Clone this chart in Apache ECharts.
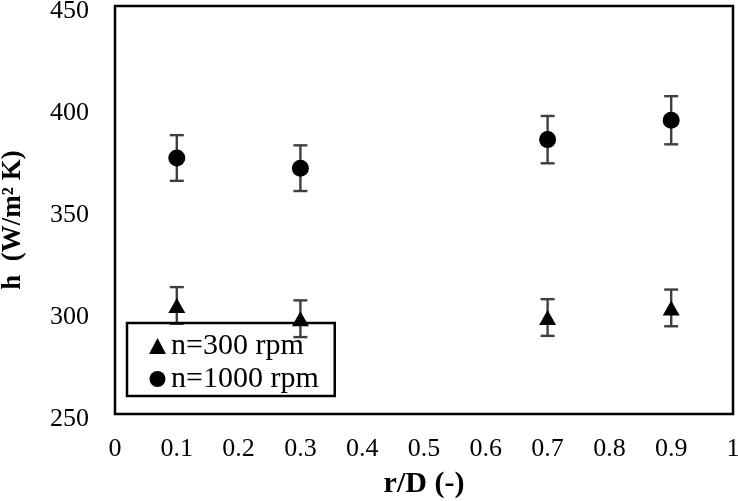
<!DOCTYPE html>
<html>
<head>
<meta charset="utf-8">
<script src="https://cdn.jsdelivr.net/npm/echarts@6/dist/echarts.min.js"></script>
<style>html,body{margin:0;padding:0;background:#fff;}#c{width:738px;height:501px;}</style>
</head>
<body>
<div id="c"></div>
<script>
var rd = [0.1, 0.3, 0.7, 0.9];
var h300 = [303.2, 296.7, 297.3, 302];
var err300 = [9, 9, 9, 9];
var h1000 = [375.5, 370.5, 384.5, 394];
var err1000 = [11.2, 11.2, 11.6, 11.8];
var seriesNames = ['n=300 rpm', 'n=1000 rpm'];
var xTitle = 'r/D (-)';
var yTitle = 'h  (W/m\u00B2 K)';

var FONT = 'Liberation Serif';
function pts(h) { return rd.map(function (x, i) { return [x, h[i]]; }); }
function bars(h, e) { return rd.map(function (x, i) { return [x, h[i] - e[i], h[i] + e[i]]; }); }
function errRender(params, api) {
  var x = api.value(0);
  var lo = api.coord([x, api.value(1)]);
  var hi = api.coord([x, api.value(2)]);
  var cap = 7;
  var st = { stroke: '#3f3f3f', lineWidth: 2.4 };
  return {
    type: 'group',
    children: [
      { type: 'line', shape: { x1: lo[0], y1: lo[1], x2: hi[0], y2: hi[1] }, style: st },
      { type: 'line', shape: { x1: lo[0] - cap, y1: lo[1], x2: lo[0] + cap, y2: lo[1] }, style: st },
      { type: 'line', shape: { x1: hi[0] - cap, y1: hi[1], x2: hi[0] + cap, y2: hi[1] }, style: st }
    ]
  };
}
var chart = echarts.init(document.getElementById('c'), null, { renderer: 'canvas' });
chart.setOption({
  animation: false,
  backgroundColor: '#fff',
  grid: { left: 115, right: 5, top: 6, bottom: 87, containLabel: false, outerBoundsMode: 'none',
    show: true, borderColor: '#000', borderWidth: 2.5, backgroundColor: 'transparent' },
  xAxis: {
    type: 'value', min: 0, max: 1, interval: 0.1,
    name: xTitle, nameLocation: 'middle', nameGap: 55,
    nameTextStyle: { fontFamily: FONT, fontWeight: 'bold', fontSize: 30, color: '#000' },
    axisLine: { show: false }, axisTick: { show: false }, splitLine: { show: false },
    axisLabel: { fontFamily: FONT, fontSize: 26, color: '#000', margin: 22,
      formatter: function (v) { return String(Math.round(v * 10) / 10); } }
  },
  yAxis: {
    type: 'value', min: 250, max: 450, interval: 50,
    name: yTitle, nameLocation: 'middle', nameGap: 88, nameRotate: 90,
    nameTextStyle: { fontFamily: FONT, fontWeight: 'bold', fontSize: 27, color: '#000', padding: [0, 20, 0, 0] },
    axisLine: { show: false }, axisTick: { show: false }, splitLine: { show: false },
    axisLabel: { fontFamily: FONT, fontSize: 26, color: '#000', margin: 26, verticalAlign: 'top', lineHeight: 10 }
  },
  legend: {
    orient: 'vertical', left: 127, top: 323,
    padding: [8, 16, 2, 22], itemGap: 3, itemWidth: 17, itemHeight: 16,
    borderColor: '#000', borderWidth: 2.5, backgroundColor: 'transparent',
    textStyle: { fontFamily: FONT, fontSize: 30, color: '#000', lineHeight: 30 },
    data: [
      { name: seriesNames[0], icon: 'triangle' },
      { name: seriesNames[1], icon: 'circle' }
    ]
  },
  series: [
    { type: 'custom', name: 'err300', renderItem: errRender, data: bars(h300, err300), encode: { x: 0, y: [1, 2] }, z: 1, silent: true },
    { type: 'custom', name: 'err1000', renderItem: errRender, data: bars(h1000, err1000), encode: { x: 0, y: [1, 2] }, z: 1, silent: true },
    { type: 'scatter', name: seriesNames[0], data: pts(h300), symbol: 'triangle', symbolSize: [17, 15], itemStyle: { color: '#000', opacity: 1 }, z: 3 },
    { type: 'scatter', name: seriesNames[1], data: pts(h1000), symbol: 'circle', symbolSize: 17, itemStyle: { color: '#000', opacity: 1 }, z: 3 }
  ]
});
</script>
</body>
</html>
